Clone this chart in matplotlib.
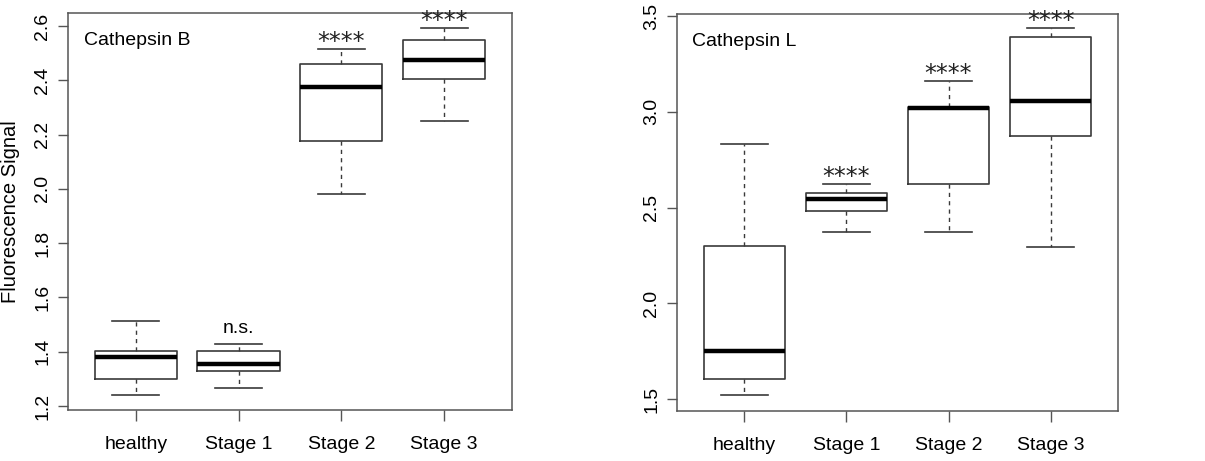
import numpy as np
import matplotlib.pyplot as plt

groups = ['healthy', 'Stage 1', 'Stage 2', 'Stage 3']

# Cathepsin B: whisker low, q1, median, q3, whisker high
b_low = [1.242, 1.265, 1.982, 2.251]
b_q1 = [1.300, 1.328, 2.176, 2.404]
b_med = [1.382, 1.353, 2.374, 2.476]
b_q3 = [1.403, 1.403, 2.461, 2.547]
b_high = [1.513, 1.427, 2.514, 2.594]
b_marks = ['', 'n.s.', '****', '****']

# Cathepsin L
l_low = [1.521, 2.370, 2.370, 2.294]
l_q1 = [1.604, 2.480, 2.624, 2.875]
l_med = [1.751, 2.546, 3.018, 3.055]
l_q3 = [2.299, 2.576, 3.023, 3.389]
l_high = [2.832, 2.623, 3.162, 3.437]
l_marks = ['', '****', '****', '****']

plt.rcParams['font.family'] = ['Liberation Sans', 'DejaVu Sans']

fig = plt.figure(figsize=(12.05, 4.61), dpi=100)
ax1 = fig.add_axes([0.0564, 0.1106, 0.3685, 0.8612])
ax2 = fig.add_axes([0.5618, 0.1091, 0.3660, 0.8612])

edge = '#3a3a3a'


def draw(ax, low, q1, med, q3, high, marks, title, ylim, yticks):
    stats = []
    for i in range(len(groups)):
        stats.append(dict(whislo=low[i], q1=q1[i], med=med[i], q3=q3[i],
                          whishi=high[i], label=groups[i]))
    pos = np.arange(1, len(groups) + 1)
    ax.bxp(stats, positions=pos, widths=0.8, capwidths=0.46, showfliers=False,
           boxprops=dict(color=edge, linewidth=1.2),
           medianprops=dict(color='black', linewidth=3.2, solid_capstyle='butt'),
           whiskerprops=dict(color=edge, linewidth=1.0, linestyle=(0, (3, 3))),
           capprops=dict(color=edge, linewidth=1.2))
    for i, m in enumerate(marks):
        if not m:
            continue
        if m == 'n.s.':
            ax.annotate(m, (pos[i], high[i]), xytext=(0, 5), textcoords='offset points',
                        ha='center', va='bottom', fontsize=14)
        else:
            ax.annotate(m, (pos[i], high[i]), xytext=(0, 0), textcoords='offset points',
                        ha='center', va='baseline', fontsize=17, family='DejaVu Sans',
                        color='#222222')
    ax.set_xlim(0.34, 4.66)
    ax.set_ylim(*ylim)
    ax.set_yticks(yticks)
    ax.set_yticklabels(['%.1f' % t for t in yticks], rotation=90, va='center')
    ax.tick_params(axis='y', length=7, width=1, color='#555555', pad=5, labelsize=14)
    ax.tick_params(axis='x', length=8, width=1, color='#555555', pad=11, labelsize=14)
    for s in ax.spines.values():
        s.set_color('#555555')
        s.set_linewidth(1.1)
    ax.text(0.035, 0.93, title, transform=ax.transAxes, fontsize=14, va='center')


draw(ax1, b_low, b_q1, b_med, b_q3, b_high, b_marks, 'Cathepsin B',
     (1.185, 2.648), [1.2, 1.4, 1.6, 1.8, 2.0, 2.2, 2.4, 2.6])
draw(ax2, l_low, l_q1, l_med, l_q3, l_high, l_marks, 'Cathepsin L',
     (1.439, 3.512), [1.5, 2.0, 2.5, 3.0, 3.5])

fig.text(0.0083, 0.54, 'Fluorescence Signal', rotation=90, ha='center', va='center',
         fontsize=14.5)

fig.savefig('out.png', dpi=100)
